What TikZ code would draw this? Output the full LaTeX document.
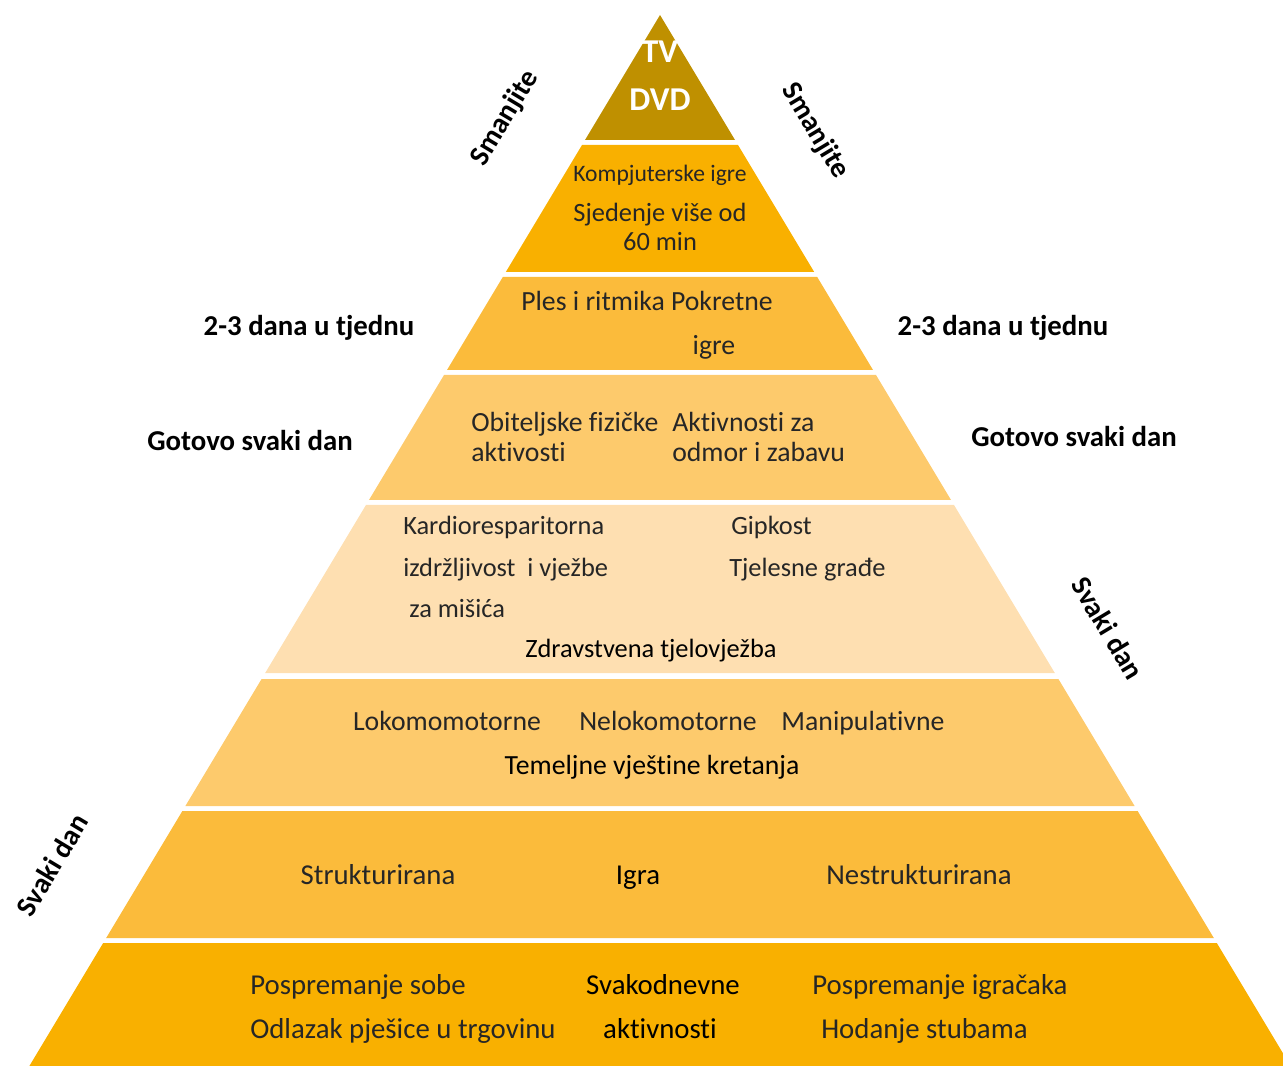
\documentclass[tikz,border=0pt]{standalone}
\usepackage{fontspec}
\setmainfont[Ligatures={NoCommon}]{Carlito}
\usepackage{tikz}
\definecolor{topgold}{HTML}{BF9000}
\definecolor{deeporange}{HTML}{F9B000}
\definecolor{midorange}{HTML}{FBBB3B}
\definecolor{softorange}{HTML}{FDCA6C}
\definecolor{paleorange}{HTML}{FEDFB1}
\definecolor{textgray}{HTML}{262626}

\begin{document}
\begin{tikzpicture}[x=0.75pt, y=-0.75pt,
    txt/.style={font=\fontsize{#1}{26}\selectfont, text=textgray, inner sep=0pt, anchor=base},
    txt/.default=21.6,
    title/.style={font=\fontsize{#1}{26}\selectfont, text=black, inner sep=0pt, anchor=base},
    title/.default=21.6,
    freq/.style={font=\fontsize{21.6}{26}\selectfont\bfseries, text=black, inner sep=0pt},
    tv/.style={font=\fontsize{25}{30}\selectfont\bfseries, text=white, inner sep=0pt, anchor=base}
]
\useasboundingbox (0,0) rectangle (1283,1066);
\clip (0,0) rectangle (1283,1066);

% bands of the pyramid, top to bottom
\foreach \yt/\yb/\col in {15/140/topgold, 145/272/deeporange, 277/370/midorange,
    375/500/softorange, 505/673/paleorange, 679/806/softorange,
    811/938/midorange, 943/1066/deeporange}
  \fill[\col] ({660-0.6*(\yt-15)},\yt) -- ({660+0.6*(\yt-15)},\yt)
    -- ({660+0.6*(\yb-15)},\yb) -- ({660-0.6*(\yb-15)},\yb) -- cycle;

% top: screens
\node[tv] (tv) at (660,63) {TV};
\node[tv] (dvd) at (660,111) {DVD};

% sitting
\node[txt=17.7] (games) at (660,182) {Kompjuterske igre};
\node[txt=19.8] (sit1) at (660,222) {Sjedenje više od};
\node[txt=19.8] (sit2) at (660,251) {60 min};

% dance
\node[txt=20.8] (dance) at (647,311) {Ples i ritmika Pokretne};
\node[txt=20.8] (dance2) at (714,355) {igre};

% family
\node[txt=20.8, anchor=base west] (fam1) at (471,432) {Obiteljske fizičke};
\node[txt=20.8, anchor=base west] (fam2) at (471,462) {aktivosti};
\node[txt=20.8, anchor=base west] (fun1) at (672,432) {Aktivnosti za};
\node[txt=20.8, anchor=base west] (fun2) at (672,462) {odmor i zabavu};

% health exercise
\node[txt=19.8, anchor=base west] (cardio1) at (403,535) {Kardioresparitorna};
\node[txt=19.8, anchor=base west] (cardio2) at (403,576) {izdržljivost\ \ i vježbe};
\node[txt=19.8, anchor=base west] (cardio3) at (409,617) {za mišića};
\node[txt=19.8, anchor=base west] (flex1) at (731,535) {Gipkost};
\node[txt=19.8, anchor=base west] (flex2) at (729,576) {Tjelesne građe};
\node[title=19.8] (health) at (651,657) {Zdravstvena tjelovježba};

% basic skills
\node[txt=20.8] (loco) at (447,730) {Lokomomotorne};
\node[txt=20.8] (nonloco) at (668,730) {Nelokomotorne};
\node[txt=20.8] (manip) at (863,730) {Manipulativne};
\node[title=20.8] (skills) at (652,774) {Temeljne vještine kretanja};

% play
\node[txt] (struct) at (378,884) {Strukturirana};
\node[title] (play) at (638,884) {Igra};
\node[txt] (unstruct) at (919,884) {Nestrukturirana};

% daily
\node[txt, anchor=base west] (room) at (250,994) {Pospremanje sobe};
\node[txt, anchor=base west] (shop) at (250,1038) {Odlazak pješice u trgovinu};
\node[title] (daily1) at (663,994) {Svakodnevne};
\node[title] (daily2) at (660,1038) {aktivnosti};
\node[txt, anchor=base west] (toys) at (812,994) {Pospremanje igračaka};
\node[txt, anchor=base west] (stairs) at (821,1038) {Hodanje stubama};

% frequency labels
\node[freq, rotate=59] (lessL) at (505,118) {Smanjite};
\node[freq, rotate=-59] (lessR) at (815,131) {Smanjite};
\node[freq] (weekL) at (309,328) {2-3 dana u tjednu};
\node[freq] (weekR) at (1003,328) {2-3 dana u tjednu};
\node[freq] (almostL) at (250,441) {Gotovo svaki dan};
\node[freq] (almostR) at (1074,437) {Gotovo svaki dan};
\node[freq, rotate=-59] (dailyR) at (1108,628) {Svaki dan};
\node[freq, rotate=59] (dailyL) at (52,865) {Svaki dan};

\end{tikzpicture}
\end{document}
